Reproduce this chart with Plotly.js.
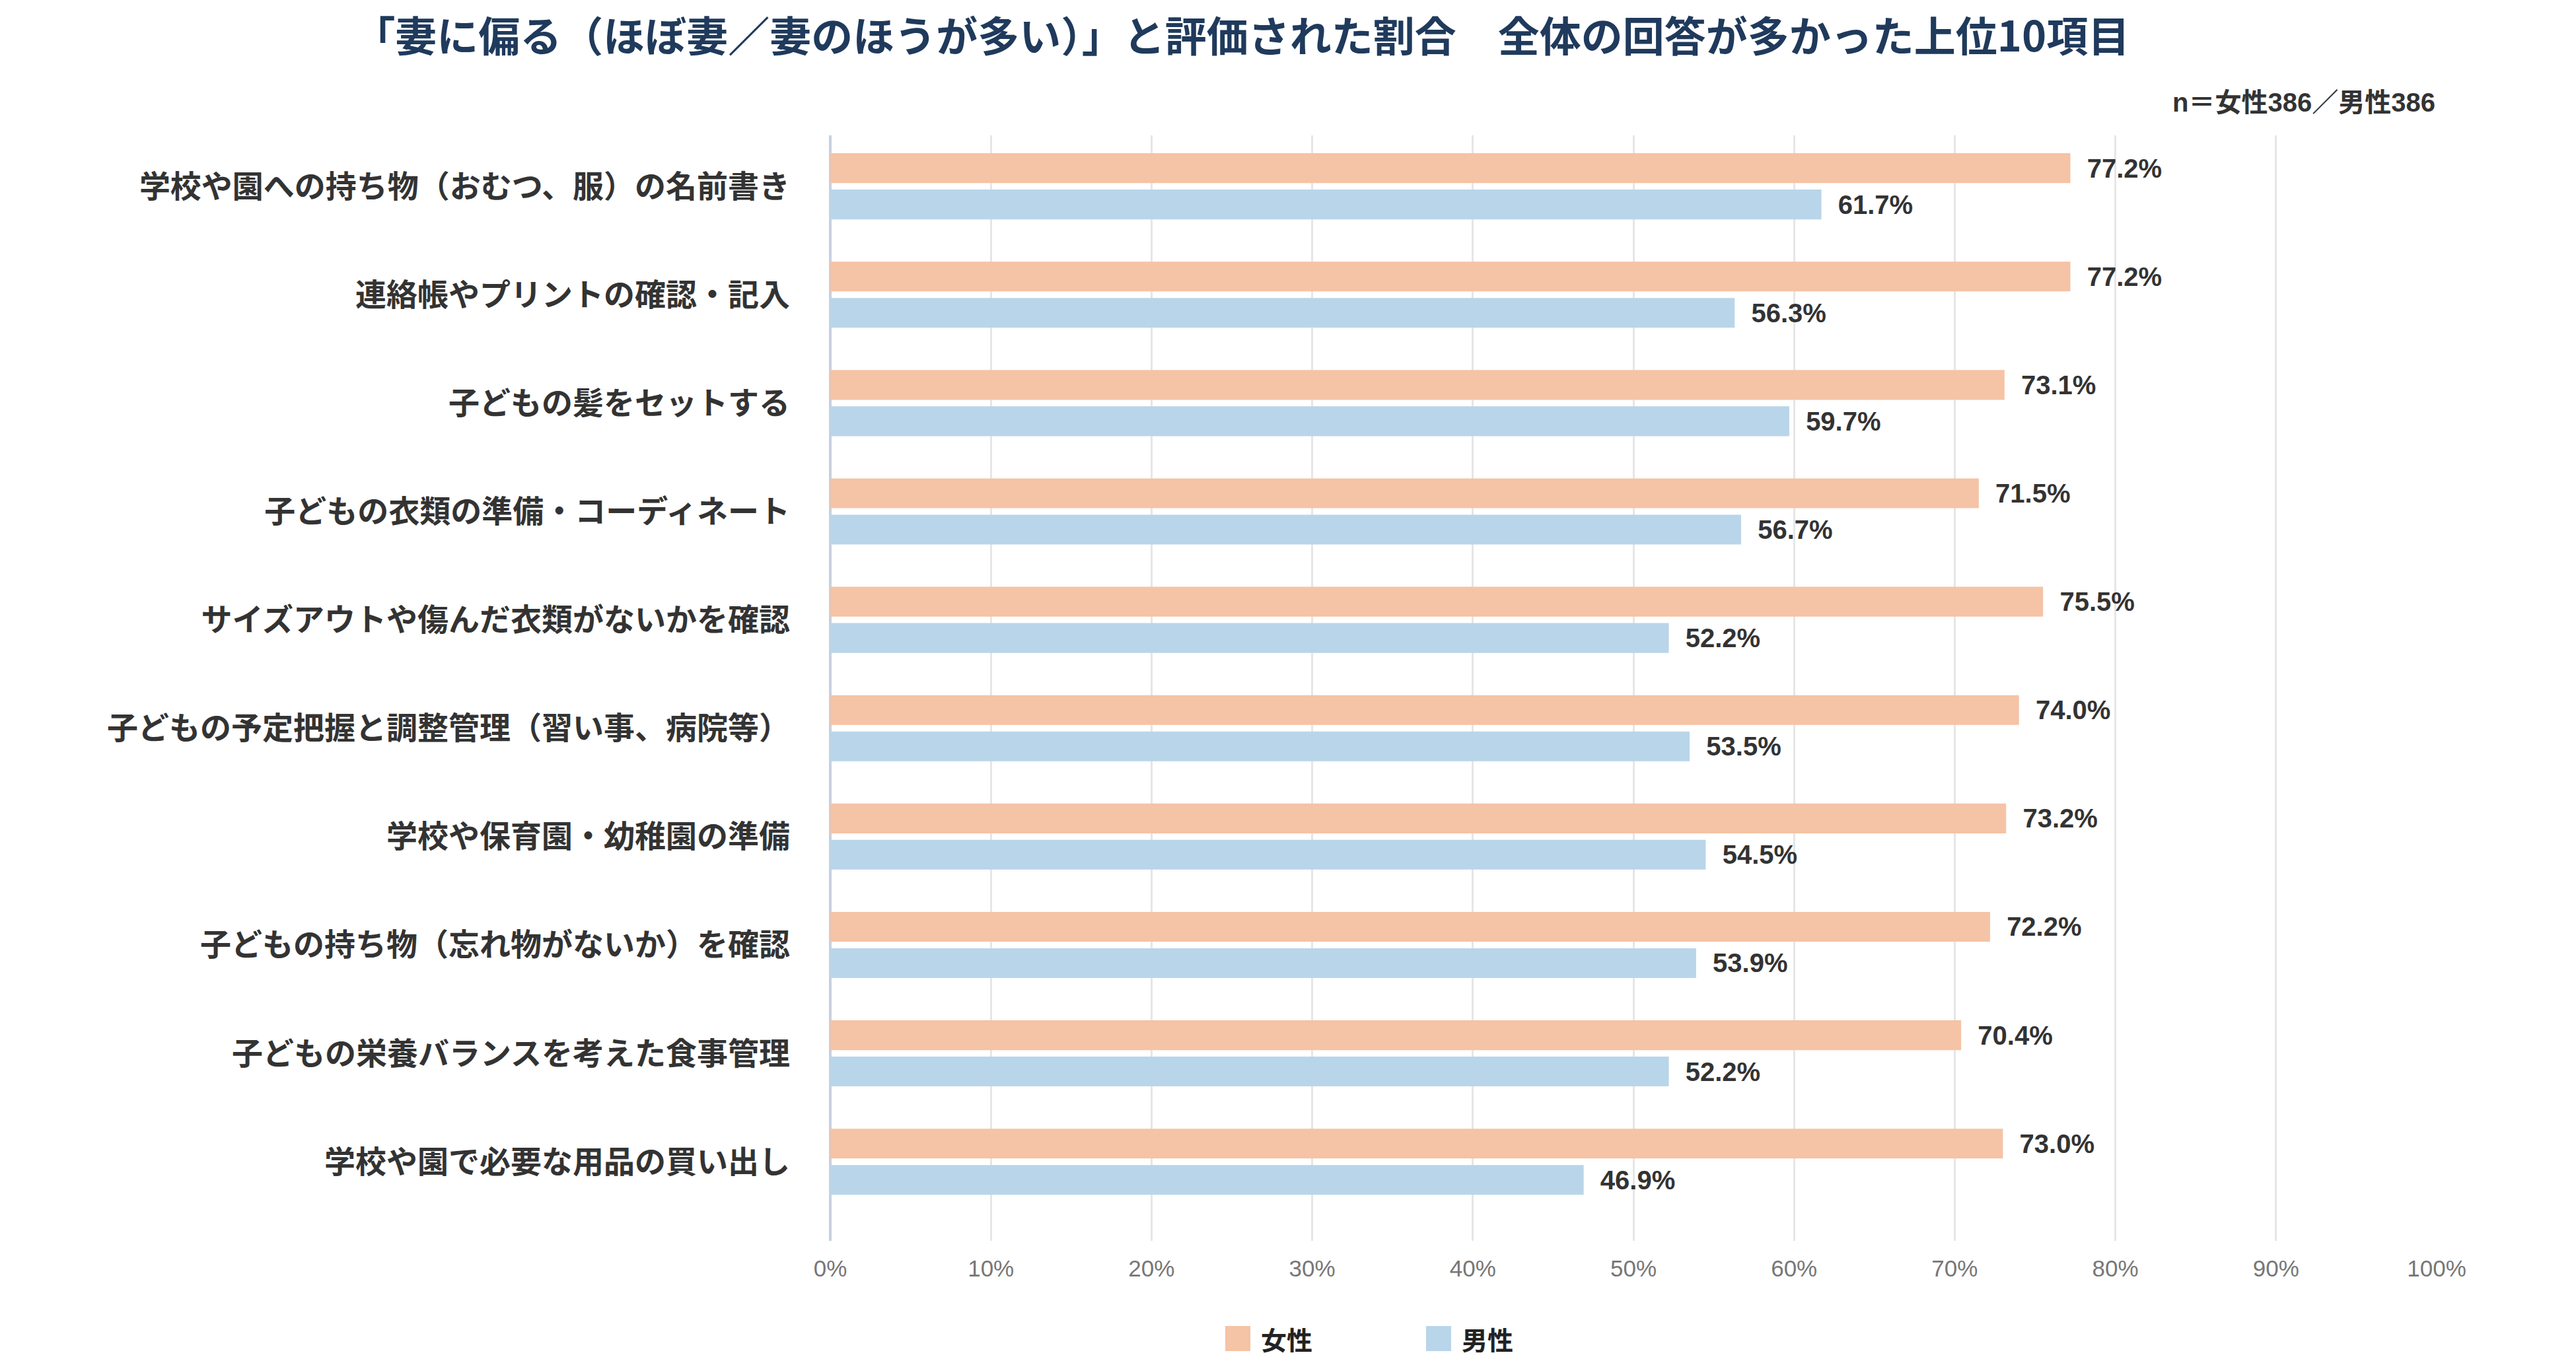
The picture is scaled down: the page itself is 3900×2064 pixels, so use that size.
<!DOCTYPE html>
<html>
<head>
<meta charset="utf-8">
<script src="https://cdn.plot.ly/plotly-3.0.1.min.js"></script>
<style>
  html, body { margin: 0; padding: 0; background: #fff; }
  #chart { width: 3900px; height: 2064px; }
</style>
</head>
<body>
<div id="chart"></div>
<script>
// Items (top to bottom)
var categories = [
  "学校や園への持ち物（おむつ、服）の名前書き",
  "連絡帳やプリントの確認・記入",
  "子どもの髪をセットする",
  "子どもの衣類の準備・コーディネート",
  "サイズアウトや傷んだ衣類がないかを確認",
  "子どもの予定把握と調整管理（習い事、病院等）",
  "学校や保育園・幼稚園の準備",
  "子どもの持ち物（忘れ物がないか）を確認",
  "子どもの栄養バランスを考えた食事管理",
  "学校や園で必要な用品の買い出し"
];
var female = [77.2, 77.2, 73.1, 71.5, 75.5, 74.0, 73.2, 72.2, 70.4, 73.0];
var male = [61.7, 56.3, 59.7, 56.7, 52.2, 53.5, 54.5, 53.9, 52.2, 46.9];
var seriesNames = ["女性", "男性"];
var seriesColors = ["#f5c3a5", "#b9d5ea"];
var xTicks = [0, 10, 20, 30, 40, 50, 60, 70, 80, 90, 100];

var JP = "'Noto Sans CJK JP', sans-serif";
var NUM = "'Liberation Sans', 'Noto Sans CJK JP', sans-serif";

var W = 3900, H = 2064;
var M = { l: 1257, r: 211, t: 205, b: 185 };
var plotW = W - M.l - M.r;
var plotH = H - M.t - M.b;

function labels(arr) {
  return arr.map(function(v) { return "\u00a0\u00a0" + v.toFixed(1) + "%"; });
}

function barTrace(name, values, color) {
  return {
    type: "bar",
    orientation: "h",
    name: name,
    y: categories,
    x: values,
    marker: { color: color },
    text: labels(values),
    textposition: "outside",
    constraintext: "none",
    cliponaxis: false,
    textfont: { family: NUM, size: 40, color: "#333333", weight: "bold" },
    showlegend: false,
    hoverinfo: "x+y"
  };
}

var data = [
  barTrace(seriesNames[0], female, seriesColors[0]),
  barTrace(seriesNames[1], male, seriesColors[1])
];

// legend drawn below the plot (bigger swatches than plotly's built-in ones)
var shapes = [];
var annotations = [{
  xref: "paper", yref: "paper",
  x: 1, xanchor: "right",
  y: 1.03, yanchor: "middle",
  showarrow: false,
  text: "<b>n＝女性386／男性386</b>",
  font: { family: NUM, size: 40, color: "#333333" }
}];

var legLeft = 1855 - M.l, legStep = 304, legMid = H - M.b - 2027, sw = 38;
seriesNames.forEach(function(name, i) {
  var x0 = legLeft + i * legStep;
  shapes.push({
    type: "rect", xref: "paper", yref: "paper", layer: "above",
    x0: x0 / plotW, x1: (x0 + sw) / plotW,
    y0: (legMid - sw / 2) / plotH, y1: (legMid + sw / 2) / plotH,
    fillcolor: seriesColors[i], line: { width: 0 }
  });
  annotations.push({
    xref: "paper", yref: "paper",
    x: (x0 + sw + 14) / plotW, xanchor: "left",
    y: legMid / plotH, yanchor: "middle",
    showarrow: false,
    text: "<b>" + name + "</b>",
    font: { family: JP, size: 39, color: "#222222" }
  });
});

var layout = {
  width: W,
  height: H,
  paper_bgcolor: "#ffffff",
  plot_bgcolor: "#ffffff",
  margin: M,
  barmode: "group",
  bargap: 0.33,
  bargroupgap: 0.18,
  font: { family: JP, color: "#333333" },
  title: {
    text: "<b>「妻に偏る（ほぼ妻／妻のほうが多い）」と評価された割合　全体の回答が多かった上位10項目</b>",
    font: { family: JP, size: 63, color: "#1f3a5c" },
    x: 0.482,
    xanchor: "center",
    y: 0.973,
    yanchor: "middle"
  },
  xaxis: {
    range: [0, 100],
    tickmode: "array",
    tickvals: xTicks,
    ticktext: xTicks.map(function(v) { return v + "%"; }),
    showgrid: true,
    gridcolor: "#e6e6e6",
    gridwidth: 3,
    zeroline: true,
    zerolinecolor: "#c8d0df",
    zerolinewidth: 4,
    showline: false,
    ticks: "",
    ticklabelstandoff: 18,
    tickfont: { family: NUM, size: 35, color: "#777777" },
    fixedrange: true
  },
  yaxis: {
    type: "category",
    range: [9.73, -0.47],
    showgrid: false,
    zeroline: false,
    showline: false,
    ticks: "",
    ticklabelstandoff: 60,
    tickfont: { family: JP, size: 47, color: "#333333", weight: "bold" },
    fixedrange: true
  },
  showlegend: false,
  shapes: shapes,
  annotations: annotations
};

Plotly.newPlot("chart", data, layout, { displayModeBar: false, staticPlot: true });
</script>
</body>
</html>
